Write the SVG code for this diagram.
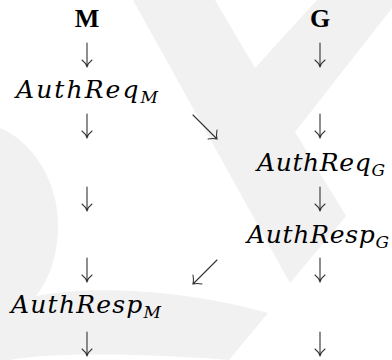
<svg xmlns="http://www.w3.org/2000/svg" width="392" height="360" viewBox="0 0 392 360">
<style>
.bg{fill:#f1f1f1;stroke:none}
.hd{font-family:"Liberation Serif","Times New Roman",serif;font-weight:bold;font-size:26px;fill:#000;text-anchor:middle}
.lb{font-family:"DejaVu Serif","Liberation Serif",serif;font-style:italic;font-size:25px;fill:#000}
.sb{font-size:17px}
.ar{fill:none;stroke:#333;stroke-width:1.1;stroke-linecap:round}
</style>
<defs>
<path id="down" d="M0,-12 V12 M-5,5 Q-1,8 0,12 Q1,8 5,5"/>
</defs>
<rect width="392" height="360" fill="#fff"/>
<g id="watermark">
<path class="bg" d="M133,0 L215,0 L255,68 L317,0 L392,0 L392,8 L295,132 L346,216 L290,283 Z"/>
<path class="bg" d="M0,128 C30,140 60,180 58,230 C57,260 47,282 36,296 C100,283 200,293 268,313 L229,360 C180,356 60,350 10,360 L0,360 Z"/>
</g>
<g id="node-M"><text class="hd" x="87" y="27">M</text></g>
<g id="node-G"><text class="hd" x="320" y="27">G</text></g>
<g id="node-AuthReqM"><text class="lb" x="16" y="98" textLength="142" lengthAdjust="spacing">AuthReq<tspan class="sb" dy="5">M</tspan></text></g>
<g id="node-AuthReqG"><text class="lb" x="257" y="171" textLength="128" lengthAdjust="spacing">AuthReq<tspan class="sb" dy="5">G</tspan></text></g>
<g id="node-AuthRespG"><text class="lb" x="247" y="243" textLength="142" lengthAdjust="spacing">AuthResp<tspan class="sb" dy="5">G</tspan></text></g>
<g id="node-AuthRespM"><text class="lb" x="11" y="313" textLength="150" lengthAdjust="spacing">AuthResp<tspan class="sb" dy="5">M</tspan></text></g>
<g id="connectors" class="ar">
<use href="#down" x="87" y="55"/>
<use href="#down" x="320" y="55"/>
<use href="#down" x="87" y="126"/>
<use href="#down" x="320" y="126"/>
<path d="M193,115 L217,139 M208,139 Q213,138 217,139 Q216,135 217,130"/>
<use href="#down" x="87" y="199"/>
<use href="#down" x="320" y="199"/>
<use href="#down" x="87" y="270"/>
<use href="#down" x="320" y="270"/>
<path d="M217,260 L193,284 M193,275 Q194,280 193,284 Q197,283 202,284"/>
<use href="#down" x="87" y="344"/>
<use href="#down" x="320" y="344"/>
</g>
</svg>
